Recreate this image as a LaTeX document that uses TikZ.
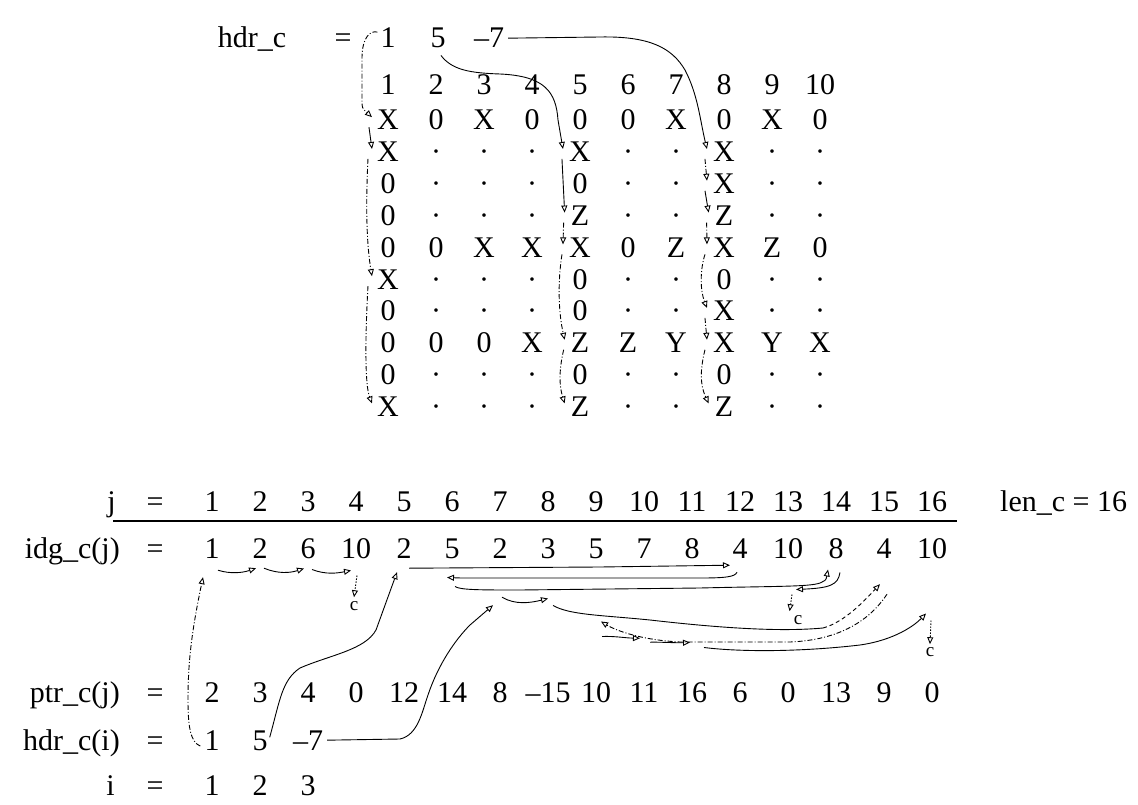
\documentclass[tikz,border=0pt]{standalone}
\usepackage{fontspec}
\setmainfont{Liberation Serif}
\usetikzlibrary{arrows.meta,calc}
\begin{document}
\begin{tikzpicture}[x=1pt,y=-1pt,
  txt/.style={font=\fontsize{30}{34}\selectfont,inner sep=0pt,anchor=base},
  small/.style={font=\fontsize{19}{21}\selectfont,inner sep=0pt},
  lnk/.style={line width=0.9pt,-{Triangle[open,length=7pt,width=6pt]}},
  plain/.style={line width=0.9pt},
  dd/.style={dash pattern=on 5pt off 2pt on 1pt off 2pt},
  dt/.style={dash pattern=on 1.5pt off 1.5pt},
  ds/.style={dash pattern=on 4pt off 3pt},
]
\useasboundingbox (0,0) rectangle (1138,805);

% ---------- top: hdr_c and the matrix
\node[txt] (hl) at (252,48) {hdr\_c};
\node[txt] (he) at (343,48) {=};
\node[txt] (h1) at (388,48) {1};
\node[txt] (h2) at (438,48) {5};
\node[txt] (h3) at (489,48) {–7};

\foreach \c in {1,...,10} \node[txt] (c\c) at ({388+48*(\c-1)},95) {\c};

\foreach \r/\row in {
  1/{X,0,X,0,0,0,X,0,X,0},
  2/{X,·,·,·,X,·,·,X,·,·},
  3/{0,·,·,·,0,·,·,X,·,·},
  4/{0,·,·,·,Z,·,·,Z,·,·},
  5/{0,0,X,X,X,0,Z,X,Z,0},
  6/{X,·,·,·,0,·,·,0,·,·},
  7/{0,·,·,·,0,·,·,X,·,·},
  8/{0,0,0,X,Z,Z,Y,X,Y,X},
  9/{0,·,·,·,0,·,·,0,·,·},
  10/{X,·,·,·,Z,·,·,Z,·,·}} {
  \foreach \v [count=\c] in \row {
    \node[txt] (m-\r-\c) at ({388+48*(\c-1)},{130+31.8*(\r-1)}) {\v};
  }
}

% column 1 list
\draw[lnk,dd] ([shift={(-3,-6)}]h1.west) .. controls (370,30) and (362,38) .. (362,58) -- (362,100) .. controls (362,108) .. ([shift={(-5,-3)}]m-1-1.west);
\draw[lnk] ([shift={(-8,7)}]m-1-1.west) -- ([shift={(-5,-3)}]m-2-1.west);
\draw[lnk,dd] ([shift={(-9,7)}]m-2-1.west) .. controls (366,200) and (366,240) .. ([shift={(-5,-3)}]m-6-1.west);
\draw[lnk,dd] ([shift={(-9,7)}]m-6-1.west) .. controls (365,340) and (365,385) .. ([shift={(-5,-3)}]m-10-1.west);
% column 5 list
\draw[lnk] ([shift={(3,7)}]h2.south) .. controls (452,70) and (470,73) .. (500,74) .. controls (545,76) and (556,92) .. (558,120) -- ([shift={(-6,-3)}]m-2-5.west);
\draw[lnk] ([shift={(-7,7)}]m-2-5.west) -- ([shift={(-6,-3)}]m-4-5.west);
\draw[lnk,dd] ([shift={(-7,7)}]m-4-5.west) -- ([shift={(-6,-3)}]m-5-5.west);
\draw[lnk,dd] ([shift={(-7,7)}]m-5-5.west) .. controls (558,280) and (558,310) .. ([shift={(-6,-3)}]m-8-5.west);
\draw[lnk,dd] ([shift={(-7,7)}]m-8-5.west) .. controls (559,370) and (559,385) .. ([shift={(-6,-3)}]m-10-5.west);
% column 8 list
\draw[lnk] ([xshift=4pt]h3.east) -- (600,37) .. controls (650,36) and (672,48) .. (685,70) .. controls (698,95) and (700,120) .. ([shift={(-6,-3)}]m-2-8.west);
\draw[lnk,dd] ([shift={(-8,7)}]m-2-8.west) -- ([shift={(-6,-3)}]m-3-8.west);
\draw[lnk] ([shift={(-8,7)}]m-3-8.west) -- ([shift={(-6,-3)}]m-4-8.west);
\draw[lnk,dd] ([shift={(-8,7)}]m-4-8.west) -- ([shift={(-6,-3)}]m-5-8.west);
\draw[lnk,dd] ([shift={(-8,7)}]m-5-8.west) .. controls (700,270) and (700,290) .. ([shift={(-6,-3)}]m-7-8.west);
\draw[lnk,dd] ([shift={(-8,7)}]m-7-8.west) -- ([shift={(-6,-3)}]m-8-8.west);
\draw[lnk,dd] ([shift={(-8,7)}]m-8-8.west) .. controls (700,370) and (700,385) .. ([shift={(-6,-3)}]m-10-8.west);

% ---------- bottom: arrays
\node[txt,anchor=base east] (lj) at (116,511) {j};
\node[txt] (ej) at (155,511) {=};
\foreach \k in {1,...,16} \node[txt] (j\k) at ({212+48*(\k-1)},511) {\k};
\draw[line width=2.4pt] (113,521) -- (957,521);
\node[txt,anchor=base west] (len) at (1000,511) {len\_c = 16};

\node[txt,anchor=base east] (lg) at (120,558) {idg\_c(j)};
\node[txt] (eg) at (155,558) {=};
\foreach \v [count=\k] in {1,2,6,10,2,5,2,3,5,7,8,4,10,8,4,10}
  \node[txt] (g\k) at ({212+48*(\k-1)},558) {\v};

\node[txt,anchor=base east] (lp) at (120,702) {ptr\_c(j)};
\node[txt] (ep) at (155,702) {=};
\foreach \v [count=\k] in {2,3,4,0,12,14,8,–15,10,11,16,6,0,13,9,0}
  \node[txt] (p\k) at ({212+48*(\k-1)},702) {\v};

\node[txt,anchor=base east] (lh) at (120,750) {hdr\_c(i)};
\node[txt] (eh) at (155,750) {=};
\foreach \v [count=\k] in {1,5,–7}
  \node[txt] (hi\k) at ({212+48*(\k-1)},750) {\v};

\node[txt,anchor=base east] (li) at (115,795) {i};
\node[txt] (ei) at (155,795) {=};
\foreach \k in {1,2,3} \node[txt] (i\k) at ({212+48*(\k-1)},795) {\k};

% end markers
\node[small] (e1) at (354,606) {c};
\node[small] (e2) at (798,620) {c};
\node[small] (e3) at (930,652) {c};

% list of column 1
\draw[lnk,dd] ([shift={(-4,6)}]hi1.west) .. controls (190,742) and (188,725) .. (188,700) .. controls (188,660) and (192,630) .. ([shift={(-9,19)}]g1.south);
\draw[lnk] ([shift={(6,12)}]g1.south) .. controls (230,574) and (242,573) .. ([shift={(-4,10)}]g2.south);
\draw[lnk] ([shift={(4,10)}]g2.south) .. controls (278,574) and (290,573) .. ([shift={(-4,10)}]g3.south);
\draw[lnk] ([shift={(4,11)}]g3.south) .. controls (326,575) and (338,573) .. ([shift={(-5,12)}]g4.south);
\draw[lnk,dt] ([shift={(1,17)}]g4.south) -- ([shift={(0,-4)}]e1.north);
% list of column 5
\draw[lnk] ([shift={(2,-3)}]hi2.east) .. controls (280,700) and (282,680) .. (300,668) .. controls (330,655) and (365,650) .. (376,630) -- ([shift={(-7,14)}]g5.south);
\draw[lnk] ([shift={(5,10)}]g5.south) -- (600,567) -- ([shift={(-10,7)}]g12.south);
\draw[lnk] ([shift={(-3,14)}]g12.south) .. controls (735,577) and (725,578) .. (700,578) -- (470,578) .. controls (460,578) .. ([shift={(-5,19)}]g6.south);
\draw[lnk] ([shift={(3,28)}]g6.south) .. controls (460,590) and (480,590) .. (520,590) -- (700,588) .. controls (780,586) and (815,587) .. (822,582) .. controls (826,580) .. ([shift={(-8,11)}]g14.south);
\draw[lnk] ([shift={(4,14)}]g14.south) .. controls (838,585) and (830,588) .. ([shift={(8,31)}]g13.south);
\draw[lnk,dt] ([shift={(4,36)}]g13.south) -- ([shift={(-4,-4)}]e2.north west);
% list of column 8
\draw[lnk] ([xshift=4pt]hi3.east) -- (400,739) .. controls (418,735) and (422,712) .. (428,695) .. controls (438,665) and (455,640) .. (470,625) -- ([shift={(-7,47)}]g7.south);
\draw[lnk] ([shift={(2,39)}]g7.south) .. controls (515,605) and (530,603) .. ([shift={(0,40)}]g8.south);
\coordinate (k1) at (823,628);
\draw[plain] ([shift={(5,47)}]g8.south) .. controls (570,615) and (600,615) .. (650,620) .. controls (720,628) and (780,632) .. (k1);
\draw[lnk,ds] (k1) .. controls (845,622) and (865,600) .. ([shift={(-4,26)}]g15.south);
\draw[lnk,dd] ([shift={(3,36)}]g15.south) .. controls (870,620) and (840,640) .. (790,642) -- (680,642) .. controls (640,640) and (615,630) .. ([shift={(5,63)}]g9.south);
\draw[lnk] ([shift={(6,78)}]g9.south) .. controls (615,636) and (625,638) .. ([shift={(-4,80)}]g10.south);
\draw[lnk] ([shift={(6,84)}]g10.south) .. controls (665,642) and (675,643) .. ([shift={(-2,84)}]g11.south);
\draw[lnk] ([shift={(12,89)}]g11.south) .. controls (740,652) and (800,652) .. (860,645) .. controls (895,640) and (915,625) .. ([shift={(-6,55)}]g16.south);
\draw[lnk,dt] ([shift={(-1,62)}]g16.south) -- ([shift={(0,-3)}]e3.north);
\end{tikzpicture}
\end{document}
